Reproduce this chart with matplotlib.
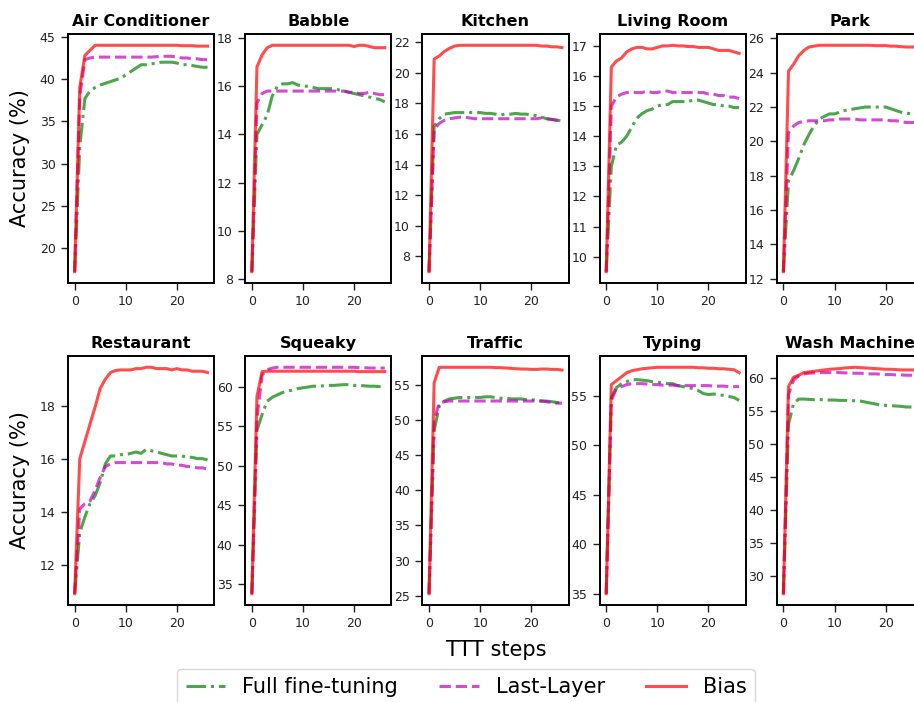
import matplotlib.pyplot as plt
import numpy as np

steps = np.arange(27)

titles = ["Air Conditioner", "Babble", "Kitchen", "Living Room", "Park",
          "Restaurant", "Squeaky", "Traffic", "Typing", "Wash Machine"]

# accuracy (%) per TTT step, one list per noise type (same order as titles)
full_ft = [
    [17.2, 32.0, 37.7, 38.6, 39.0, 39.3, 39.5, 39.7, 39.9, 40.1, 40.5, 40.9, 41.3, 41.7,
     41.7, 41.8, 41.9, 42.0, 42.0, 42.0, 41.9, 41.7, 41.7, 41.6, 41.5, 41.4, 41.4],
    [8.3, 14.0, 14.4, 14.8, 15.6, 16.0, 16.1, 16.1, 16.15, 16.05, 16.0, 16.0, 15.95, 15.9,
     15.9, 15.9, 15.9, 15.85, 15.8, 15.75, 15.7, 15.65, 15.6, 15.55, 15.5, 15.45, 15.35],
    [7.0, 16.5, 17.0, 17.3, 17.35, 17.4, 17.4, 17.4, 17.4, 17.4, 17.4, 17.35, 17.35, 17.3,
     17.25, 17.3, 17.3, 17.35, 17.3, 17.3, 17.25, 17.2, 17.1, 17.0, 16.95, 16.9, 16.85],
    [9.5, 13.0, 13.7, 13.8, 14.0, 14.3, 14.6, 14.75, 14.85, 14.9, 15.0, 15.05, 15.05, 15.15,
     15.15, 15.15, 15.15, 15.2, 15.2, 15.15, 15.1, 15.05, 15.05, 15.0, 15.0, 14.95, 14.95],
    [12.4, 17.7, 18.3, 19.0, 19.8, 20.4, 20.9, 21.3, 21.45, 21.6, 21.6, 21.7, 21.8, 21.85,
     21.9, 21.95, 22.0, 22.0, 22.0, 22.0, 22.0, 21.9, 21.8, 21.7, 21.65, 21.6, 21.55],
    [10.9, 13.2, 13.8, 14.3, 14.6, 15.1, 15.8, 16.1, 16.1, 16.15, 16.15, 16.2, 16.25, 16.2,
     16.35, 16.3, 16.25, 16.2, 16.15, 16.1, 16.1, 16.1, 16.05, 16.05, 16.0, 16.0, 15.95],
    [33.8, 54.5, 56.5, 58.2, 58.7, 59.0, 59.3, 59.5, 59.6, 59.8, 59.9, 60.0, 60.1, 60.1,
     60.15, 60.2, 60.2, 60.25, 60.3, 60.3, 60.2, 60.2, 60.15, 60.1, 60.1, 60.05, 60.0],
    [25.3, 48.5, 52.0, 52.7, 53.0, 53.1, 53.2, 53.2, 53.2, 53.2, 53.2, 53.3, 53.3, 53.2,
     53.1, 53.1, 53.0, 53.0, 53.0, 52.9, 52.9, 52.8, 52.7, 52.7, 52.6, 52.5, 52.4],
    [35.0, 54.8, 55.8, 56.2, 56.4, 56.6, 56.6, 56.55, 56.5, 56.4, 56.35, 56.3, 56.2, 56.2,
     56.0, 55.9, 55.8, 55.7, 55.5, 55.2, 55.1, 55.15, 55.1, 55.0, 54.9, 54.8, 54.5],
    [27.4, 53.0, 56.2, 56.8, 56.8, 56.75, 56.7, 56.7, 56.7, 56.65, 56.65, 56.6, 56.6, 56.55,
     56.55, 56.5, 56.35, 56.2, 56.05, 55.9, 55.85, 55.8, 55.75, 55.7, 55.6, 55.6, 55.55],
]

last_layer = [
    [17.2, 38.0, 42.3, 42.5, 42.6, 42.6, 42.6, 42.6, 42.6, 42.6, 42.6, 42.6, 42.6, 42.6,
     42.6, 42.6, 42.65, 42.7, 42.7, 42.7, 42.6, 42.5, 42.5, 42.4, 42.4, 42.3, 42.3],
    [8.3, 15.3, 15.7, 15.8, 15.8, 15.8, 15.8, 15.8, 15.8, 15.8, 15.8, 15.8, 15.8, 15.8,
     15.8, 15.8, 15.8, 15.8, 15.8, 15.75, 15.75, 15.7, 15.7, 15.75, 15.7, 15.65, 15.65],
    [7.0, 16.3, 16.7, 16.9, 17.0, 17.05, 17.1, 17.1, 17.05, 17.0, 17.0, 17.0, 17.0, 17.0,
     17.0, 17.0, 17.0, 17.0, 17.0, 17.0, 17.0, 17.0, 17.05, 17.0, 16.95, 16.9, 16.85],
    [9.5, 15.0, 15.3, 15.4, 15.45, 15.45, 15.45, 15.45, 15.5, 15.45, 15.45, 15.5, 15.5, 15.45,
     15.45, 15.45, 15.45, 15.45, 15.45, 15.45, 15.4, 15.4, 15.35, 15.35, 15.3, 15.3, 15.25],
    [12.4, 20.5, 20.9, 21.1, 21.15, 21.2, 21.2, 21.2, 21.2, 21.25, 21.25, 21.3, 21.3, 21.3,
     21.3, 21.25, 21.25, 21.25, 21.25, 21.25, 21.25, 21.2, 21.2, 21.15, 21.1, 21.1, 21.1],
    [10.9, 14.1, 14.3, 14.4, 14.8, 15.3, 15.7, 15.8, 15.85, 15.85, 15.85, 15.85, 15.85, 15.85,
     15.85, 15.85, 15.85, 15.85, 15.8, 15.8, 15.75, 15.75, 15.7, 15.7, 15.65, 15.65, 15.6],
    [33.8, 56.0, 61.5, 62.2, 62.4, 62.5, 62.5, 62.5, 62.5, 62.5, 62.5, 62.5, 62.5, 62.5,
     62.5, 62.5, 62.5, 62.5, 62.5, 62.5, 62.5, 62.45, 62.45, 62.4, 62.4, 62.4, 62.4],
    [25.3, 50.0, 52.4, 52.6, 52.7, 52.7, 52.7, 52.7, 52.7, 52.7, 52.7, 52.7, 52.7, 52.7,
     52.7, 52.7, 52.7, 52.7, 52.7, 52.7, 52.7, 52.7, 52.7, 52.6, 52.5, 52.4, 52.4],
    [35.0, 54.5, 55.7, 55.9, 56.1, 56.2, 56.2, 56.2, 56.15, 56.1, 56.1, 56.05, 56.05, 56.05,
     56.0, 56.0, 56.0, 56.0, 56.0, 56.0, 56.0, 55.95, 55.95, 55.95, 55.9, 55.9, 55.9],
    [27.4, 57.5, 59.7, 60.3, 60.6, 60.7, 60.75, 60.8, 60.8, 60.8, 60.8, 60.8, 60.75, 60.75,
     60.7, 60.7, 60.65, 60.6, 60.6, 60.55, 60.5, 60.5, 60.45, 60.45, 60.4, 60.4, 60.4],
]

bias = [
    [17.2, 39.0, 42.8, 43.4, 44.0, 44.0, 44.0, 44.0, 44.0, 44.0, 44.0, 44.0, 44.0, 44.0,
     44.0, 44.0, 44.0, 44.0, 44.0, 44.0, 44.0, 43.95, 43.95, 43.95, 43.9, 43.9, 43.9],
    [8.3, 16.8, 17.3, 17.6, 17.7, 17.7, 17.7, 17.7, 17.7, 17.7, 17.7, 17.7, 17.7, 17.7,
     17.7, 17.7, 17.7, 17.7, 17.7, 17.7, 17.65, 17.7, 17.7, 17.65, 17.6, 17.6, 17.6],
    [7.0, 20.9, 21.1, 21.4, 21.6, 21.75, 21.8, 21.8, 21.8, 21.8, 21.8, 21.8, 21.8, 21.8,
     21.8, 21.8, 21.8, 21.8, 21.8, 21.8, 21.8, 21.8, 21.75, 21.75, 21.7, 21.7, 21.65],
    [9.5, 16.3, 16.5, 16.6, 16.8, 16.9, 16.95, 16.95, 16.9, 16.9, 16.95, 17.0, 17.0, 17.02,
     17.0, 17.0, 16.98, 16.98, 16.95, 16.95, 16.95, 16.9, 16.85, 16.85, 16.85, 16.8, 16.75],
    [12.4, 24.1, 24.5, 25.0, 25.3, 25.5, 25.55, 25.6, 25.6, 25.6, 25.6, 25.6, 25.6, 25.6,
     25.6, 25.6, 25.6, 25.6, 25.58, 25.58, 25.58, 25.55, 25.55, 25.52, 25.5, 25.5, 25.5],
    [10.9, 16.0, 16.65, 17.3, 17.95, 18.65, 19.0, 19.25, 19.33, 19.35, 19.35, 19.35, 19.4, 19.4,
     19.45, 19.45, 19.4, 19.4, 19.4, 19.35, 19.4, 19.35, 19.35, 19.3, 19.3, 19.3, 19.25],
    [33.8, 58.8, 61.95, 62.0, 62.0, 62.0, 62.0, 62.0, 62.0, 62.0, 62.0, 62.0, 62.0, 62.0,
     62.0, 62.0, 62.0, 62.0, 62.0, 62.0, 62.0, 61.95, 61.95, 61.95, 61.95, 61.95, 61.95],
    [25.3, 55.3, 57.5, 57.5, 57.5, 57.5, 57.5, 57.5, 57.5, 57.5, 57.5, 57.5, 57.5, 57.45,
     57.45, 57.4, 57.35, 57.3, 57.25, 57.25, 57.2, 57.2, 57.25, 57.25, 57.2, 57.2, 57.1],
    [35.0, 56.1, 56.5, 56.9, 57.3, 57.5, 57.6, 57.7, 57.75, 57.8, 57.85, 57.85, 57.85, 57.85,
     57.85, 57.85, 57.85, 57.85, 57.8, 57.8, 57.75, 57.75, 57.7, 57.7, 57.65, 57.6, 57.3],
    [27.4, 58.7, 60.1, 60.4, 60.8, 60.9, 61.0, 61.1, 61.2, 61.3, 61.35, 61.4, 61.5, 61.55,
     61.6, 61.55, 61.5, 61.45, 61.4, 61.35, 61.3, 61.3, 61.25, 61.2, 61.2, 61.2, 61.2],
]

fig, axes = plt.subplots(2, 5, figsize=(9.14, 7.02), dpi=100)
plt.subplots_adjust(left=0.0744, right=1.0098, top=0.9516, bottom=0.1382,
                    wspace=0.212, hspace=0.293)

for i, ax in enumerate(axes.flat):
    ax.plot(steps, full_ft[i], color="green", alpha=0.7, linestyle="-.", linewidth=2.2,
            label="Full fine-tuning")
    ax.plot(steps, last_layer[i], color="m", alpha=0.7, linestyle="--", linewidth=2.2,
            label="Last-Layer")
    ax.plot(steps, bias[i], color="red", alpha=0.7, linestyle="-", linewidth=2.2,
            label="Bias")
    ax.set_title(titles[i], fontsize=11.5, fontweight="bold")
    ax.set_xticks([0, 10, 20])
    ax.tick_params(labelsize=9, colors="#222222", width=1.0, length=5, pad=4)
    for sp in ax.spines.values():
        sp.set_linewidth(1.4)

axes[0, 0].set_ylabel("Accuracy (%)", fontsize=15, labelpad=7)
axes[1, 0].set_ylabel("Accuracy (%)", fontsize=15, labelpad=7)

fig.text(496 / 914, 1 - 650 / 702, "TTT steps", fontsize=15, ha="center", va="center")

handles, labels = axes[0, 0].get_legend_handles_labels()
fig.legend(handles, labels, loc="upper center", bbox_to_anchor=(466 / 914, 1 - 669 / 702),
           ncol=3, fontsize=15, columnspacing=2.0, handlelength=1.9, borderaxespad=0,
           frameon=True)

plt.savefig("out.png", dpi=100)
